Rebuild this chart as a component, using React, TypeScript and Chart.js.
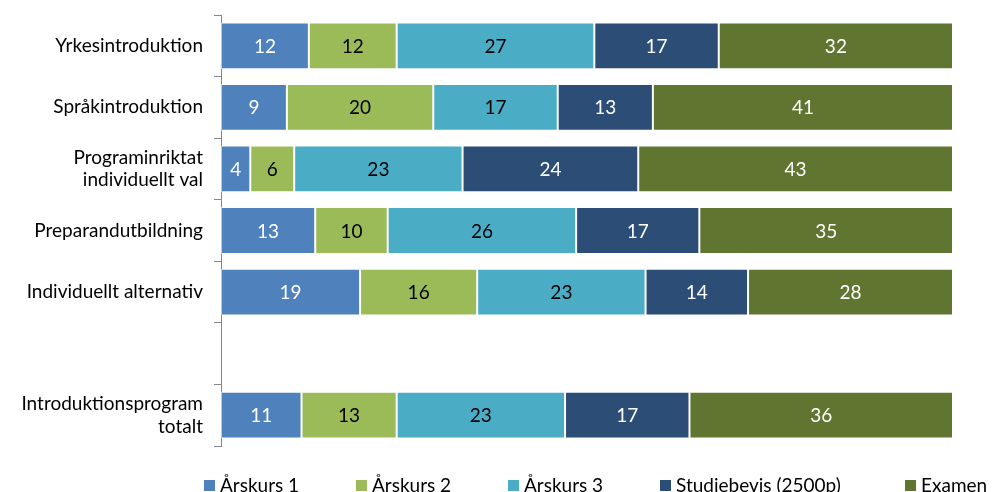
import React, { useEffect, useRef } from "react";
import { Chart, registerables } from "chart.js";

Chart.register(...registerables);

const FONT = "Lato, 'Open Sans', sans-serif";

const categories: (string | string[])[] = [
  "Yrkesintroduktion",
  "Språkintroduktion",
  ["Programinriktat", "individuellt val"],
  "Preparandutbildning",
  "Individuellt alternativ",
  "",
  ["Introduktionsprogram", "totalt"],
];

const seriesNames = ["Årskurs 1", "Årskurs 2", "Årskurs 3", "Studiebevis (2500p)", "Examen"];

const arskurs1 = [12, 9, 4, 13, 19, null, 11];
const arskurs2 = [12, 20, 6, 10, 16, null, 13];
const arskurs3 = [27, 17, 23, 26, 23, null, 23];
const studiebevis = [17, 13, 24, 17, 14, null, 17];
const examen = [32, 41, 43, 35, 28, null, 36];

const SERIES = [arskurs1, arskurs2, arskurs3, studiebevis, examen];
const COLORS = ["#4F81BD", "#9BBB59", "#4BACC6", "#2C4D75", "#5F7530"];
const LABEL_COLORS = ["#FFFFFF", "#000000", "#000000", "#FFFFFF", "#FFFFFF"];
const LEGEND_WIDTHS = [152, 152, 152, 245, 90];

const totals = categories.map((_, i) =>
  SERIES.reduce((s, arr) => s + (arr[i] ?? 0), 0)
);

const labelPlugin = {
  id: "barLabels",
  afterDatasetsDraw(chart: any) {
    const ctx = chart.ctx;
    ctx.save();
    ctx.font = `19px ${FONT}`;
    ctx.textAlign = "center";
    ctx.textBaseline = "middle";
    chart.data.datasets.forEach((_: any, di: number) => {
      const meta = chart.getDatasetMeta(di);
      meta.data.forEach((el: any, i: number) => {
        const raw = SERIES[di][i];
        if (raw == null) return;
        const { x, y, base } = el.getProps(["x", "y", "base"], true);
        ctx.fillStyle = LABEL_COLORS[di];
        ctx.fillText(String(raw), (x + base) / 2, y + 1);
      });
    });
    ctx.restore();
  },
};

export default function App() {
  const ref = useRef<HTMLCanvasElement | null>(null);

  useEffect(() => {
    if (!ref.current) return;
    const chart = new Chart(ref.current, {
      type: "bar",
      data: {
        labels: categories,
        datasets: SERIES.map((arr, di) => ({
          label: seriesNames[di],
          data: arr.map((v, i) => (v == null ? null : (v / totals[i]) * 100)),
          backgroundColor: COLORS[di],
          borderColor: "rgba(255,255,255,0.55)",
          borderWidth: 1,
          borderSkipped: false,
          categoryPercentage: 1,
          barPercentage: 0.76,
        })),
      },
      options: {
        indexAxis: "y",
        animation: false,
        responsive: false,
        maintainAspectRatio: false,
        layout: { padding: { top: 15, right: 39, bottom: 46, left: 0 } },
        plugins: {
          legend: { display: false },
          tooltip: { enabled: false },
        },
        scales: {
          x: {
            stacked: true,
            min: 0,
            max: 100,
            display: false,
          },
          y: {
            stacked: true,
            offset: true,
            afterFit: (s: any) => {
              s.width = 221;
              s.paddingTop = 0;
              s.paddingBottom = 0;
            },
            grid: {
              offset: true,
              drawOnChartArea: false,
              drawTicks: true,
              tickLength: 7,
              color: "#868686",
              lineWidth: 1,
            },
            border: { display: true, color: "#868686", width: 1 },
            ticks: {
              color: "#000000",
              font: { family: FONT, size: 19, lineHeight: 1.2 },
              padding: 11,
            },
          },
        },
      },
      plugins: [labelPlugin],
    });
    return () => chart.destroy();
  }, []);

  return (
    <div style={{ position: "fixed", left: 0, top: 0, width: 992, height: 492, background: "#fff", overflow: "hidden" }}>
      <canvas ref={ref} width={992} height={492} style={{ position: "absolute", left: 0, top: 0 }} />
      <div
        style={{
          position: "absolute",
          left: 204,
          top: 475,
          display: "flex",
          fontFamily: FONT,
          fontSize: 19,
          color: "#000",
          whiteSpace: "nowrap",
          lineHeight: "20px",
        }}
      >
        {seriesNames.map((n, i) => (
          <div key={n} style={{ width: LEGEND_WIDTHS[i], display: "flex", alignItems: "center" }}>
            <span style={{ display: "inline-block", width: 11, height: 11, background: COLORS[i], marginRight: 5, flex: "none" }} />
            <span>{n}</span>
          </div>
        ))}
      </div>
    </div>
  );
}
